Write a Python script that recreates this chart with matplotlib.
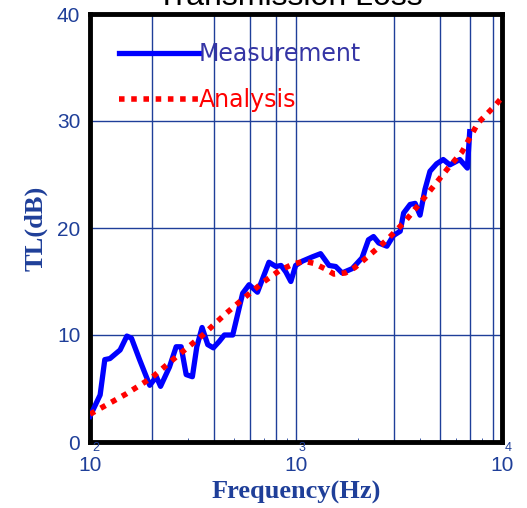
import numpy as np
import matplotlib
matplotlib.use("Agg")
import matplotlib.pyplot as plt
from matplotlib.transforms import offset_copy

meas_f = [100, 112, 118, 125, 140, 151, 159, 174, 195, 210, 220, 243, 262, 277, 293,
          314, 330, 350, 373, 397, 424, 449, 493, 551, 592, 650, 739, 799, 846, 892,
          944, 996, 1073, 1200, 1316, 1447, 1559, 1674, 1873, 2090, 2248, 2378, 2521,
          2762, 2975, 3205, 3330, 3580, 3787, 4000, 4227, 4470, 4815, 5183, 5580,
          6240, 6790, 6970]
meas_tl = [2.4, 4.4, 7.7, 7.8, 8.6, 9.9, 9.7, 7.7, 5.3, 6.1, 5.2, 7.0, 8.9, 8.9, 6.3,
           6.1, 8.9, 10.7, 9.1, 8.8, 9.4, 10.0, 10.0, 13.9, 14.7, 14.0, 16.8, 16.4,
           16.5, 15.9, 15.0, 16.5, 16.9, 17.3, 17.6, 16.5, 16.4, 15.8, 16.2, 17.2,
           18.9, 19.2, 18.6, 18.3, 19.3, 19.7, 21.4, 22.2, 22.3, 21.2, 23.6, 25.3,
           26.0, 26.4, 25.9, 26.4, 25.6, 29.0]

# analysis curve
ana_f = [100, 150, 199, 260, 353, 450, 571, 700, 828, 960, 1094, 1220, 1380, 1528,
         1736, 1930, 2130, 2450, 2800, 3377, 4227, 5475, 6390, 7640, 9210, 10000]
ana_tl = [2.6, 4.5, 6.0, 7.9, 10.0, 11.9, 13.6, 15.0, 16.0, 16.6, 16.9, 16.7, 16.2,
          15.7, 15.8, 16.3, 17.0, 18.0, 19.0, 20.6, 22.9, 25.6, 27.1, 29.8, 31.4, 32.2]

grid_f = [200, 400, 600, 800, 1000, 3000, 5000, 7000, 9000]
decades = [100, 1000, 10000]
exponents = ["2", "3", "4"]

navy = "#1f3f99"

fig = plt.figure(figsize=(5.27, 5.08), dpi=100)
ax = fig.add_axes([90 / 527, 66 / 508, 412 / 527, 428 / 508])

ax.plot(meas_f, meas_tl, color="#0000ff", lw=3.8, solid_joinstyle="round",
        label="Measurement", zorder=3)
ax.plot(ana_f, ana_tl, color="#ff0000", lw=4, ls=(0, (1, 1.2)),
        label="Analysis", zorder=4)

ax.set_xscale("log")
ax.set_xlim(100, 10000)
ax.set_ylim(0, 40)
ax.set_yticks([0, 10, 20, 30, 40])
ax.set_xticks(decades)
ax.set_xticklabels(["10"] * len(decades))

for f in grid_f:
    ax.axvline(f, color=navy, lw=1, zorder=1)
for t in [10, 20, 30]:
    ax.axhline(t, color=navy, lw=1, zorder=1)

ax.tick_params(axis="both", which="both", direction="in", colors=navy,
               labelsize=15, pad=8)
ax.tick_params(axis="x", which="minor", length=3, labelbottom=False)
ax.tick_params(axis="x", which="major", length=0, pad=10)
ax.tick_params(axis="y", length=0, pad=7)
for lab in ax.get_xticklabels() + ax.get_yticklabels():
    lab.set_fontfamily("Liberation Sans")

# exponent sitting just above the "10"
trans = offset_copy(ax.get_xaxis_transform(), fig=fig, x=6, y=-6, units="dots")
for f, e in zip(decades, exponents):
    ax.text(f, 0, e, transform=trans, fontsize=9, color=navy,
            fontfamily="Liberation Sans", ha="center", va="center", clip_on=False)

for s in ax.spines.values():
    s.set_linewidth(3.5)
    s.set_color("black")

ax.set_xlabel("Frequency(Hz)", fontfamily="Liberation Serif", fontweight="bold",
              fontsize=19, color=navy, labelpad=4)
ax.set_ylabel("TL(dB)", fontfamily="Liberation Serif", fontweight="bold",
              fontsize=19, color=navy, labelpad=7)

leg = ax.legend(loc="upper left", bbox_to_anchor=(0.07, 0.935), frameon=False,
                handlelength=3.4, handletextpad=0.0, borderpad=0, borderaxespad=0,
                labelspacing=0.95, fontsize=17, labelcolor=["#3535a5", "#ff0000"])

fig.text(290 / 527, 1 - 5 / 508, "Transmission Loss", fontfamily="Liberation Sans",
         fontsize=23, ha="center", va="baseline", color="black")

fig.savefig("out.png", dpi=100)
